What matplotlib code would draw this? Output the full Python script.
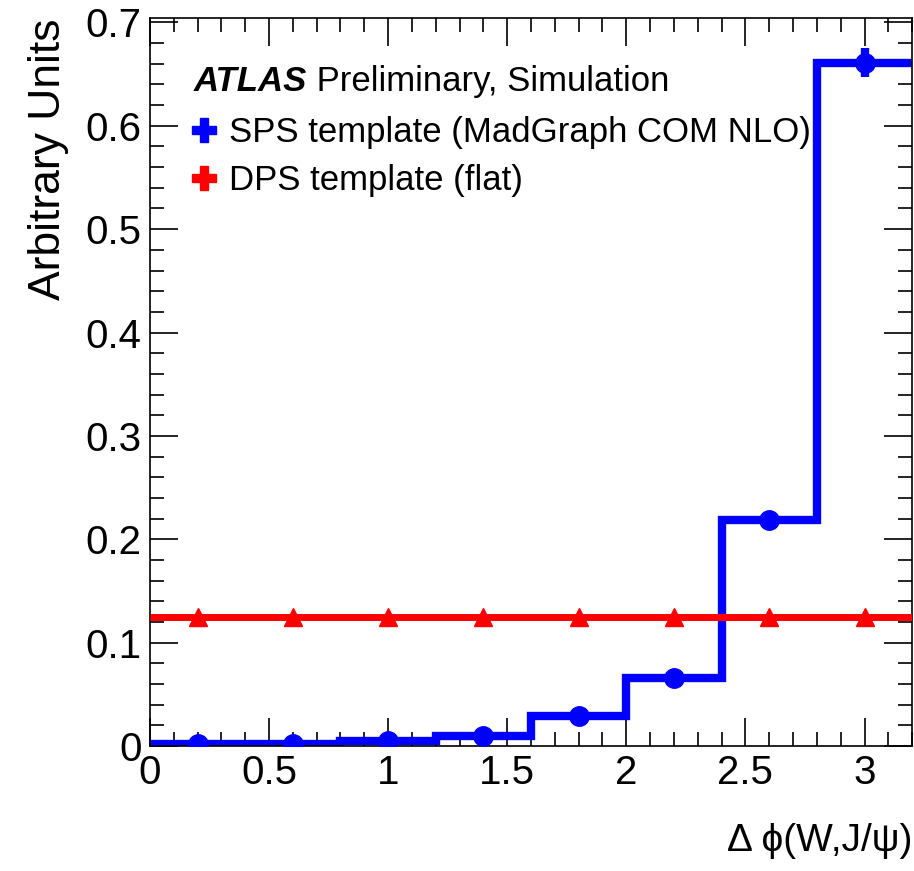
import numpy as np
import matplotlib.pyplot as plt
from matplotlib.ticker import MultipleLocator
from matplotlib.lines import Line2D

plt.rcParams['font.family'] = ['Liberation Sans', 'DejaVu Sans']

# Histogram data (8 bins over delta phi)
bin_edges = [0.0, 0.4, 0.8, 1.2, 1.6, 2.0, 2.4, 2.8, 3.2]
sps_values = [0.002, 0.002, 0.005, 0.010, 0.029, 0.066, 0.219, 0.661]
sps_errors = [0.001, 0.001, 0.002, 0.002, 0.003, 0.004, 0.006, 0.014]
dps_values = [0.125, 0.125, 0.125, 0.125, 0.125, 0.125, 0.125, 0.125]

edges = np.array(bin_edges)
centers = 0.5 * (edges[:-1] + edges[1:])

fig = plt.figure(figsize=(9.14, 8.71), dpi=100)
ax = fig.add_axes([0.164, 0.1435, 0.834, 0.8355])

blue = '#0000ff'
red = '#ff0000'

# SPS histogram
ax.stairs(sps_values, edges, color=blue, linewidth=6, baseline=None, zorder=2)
ax.errorbar(centers, sps_values, yerr=sps_errors, fmt='o', color=blue,
            markersize=14, elinewidth=6, capsize=0, zorder=3)

# DPS flat template
ax.stairs(dps_values, edges, color=red, linewidth=5, baseline=None, zorder=4)
ax.plot(centers, dps_values, '^', color=red, markersize=13, zorder=5)

ax.set_xlim(0, 3.2)
ax.set_ylim(0, 0.704)

ax.xaxis.set_major_locator(MultipleLocator(0.5))
ax.xaxis.set_minor_locator(MultipleLocator(0.1))
ax.yaxis.set_major_locator(MultipleLocator(0.1))
ax.yaxis.set_minor_locator(MultipleLocator(0.02))
ax.tick_params(which='both', direction='in', top=True, right=True, width=1.2)
ax.tick_params(which='major', length=20, labelsize=29, pad=6)
ax.tick_params(which='minor', length=10)
ax.xaxis.set_major_formatter(plt.FuncFormatter(lambda v, p: f'{v:g}'))
ax.yaxis.set_major_formatter(plt.FuncFormatter(lambda v, p: f'{v:g}'))
for s in ax.spines.values():
    s.set_linewidth(1.2)

ax.set_ylabel('Arbitrary Units', fontsize=32, loc='top', labelpad=12)
ax.set_xlabel('Δ ϕ(W,J/ψ)', fontsize=28, loc='right', labelpad=22)

# ATLAS label
atlas = ax.text(0.058, 0.913, 'ATLAS', transform=ax.transAxes, fontsize=25,
                fontweight='bold', fontstyle='italic', va='center')
ax.annotate(' Preliminary, Simulation', xy=(1, 0.5), xycoords=atlas,
            fontsize=25, va='center', ha='left')

# legend
sps_handle = Line2D([], [], color=blue, marker='P', markersize=17,
                    linestyle='none')
dps_handle = Line2D([], [], color=red, marker='P', markersize=17,
                    linestyle='none')
ax.legend([sps_handle, dps_handle],
          ['SPS template (MadGraph COM NLO)', 'DPS template (flat)'],
          loc='upper left', bbox_to_anchor=(0.035, 0.885), frameon=False,
          fontsize=25, handlelength=0.8, handletextpad=0.3, labelspacing=0.45,
          borderaxespad=0)

fig.savefig('out.png', dpi=100)
